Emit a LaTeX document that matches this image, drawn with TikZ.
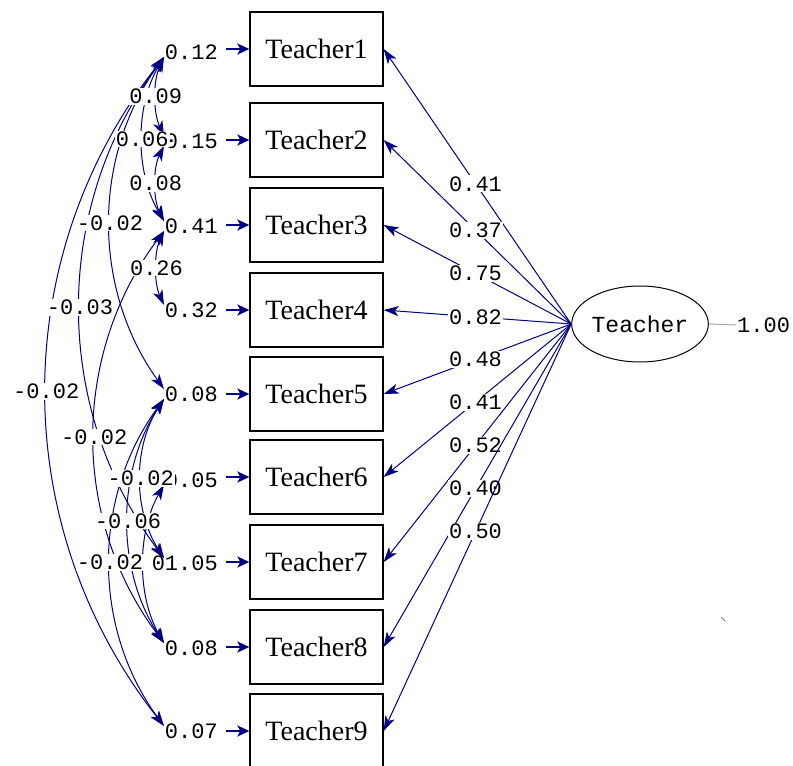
\documentclass[tikz,border=0pt]{standalone}
\usepackage{fontspec}
\setmainfont{Liberation Serif}
\newfontfamily\numfont{Liberation Mono}
\usetikzlibrary{arrows.meta,shapes.geometric}
\definecolor{pathnavy}{RGB}{0,0,128}
\definecolor{varline}{RGB}{165,165,165}
\begin{document}
\begin{tikzpicture}[x=1pt,y=-1pt,
  obsbox/.style={draw=black, line width=1.3pt, minimum width=133pt, minimum height=74pt, inner sep=0pt, font=\fontsize{28}{28}\selectfont},
  latent/.style={draw=black, line width=1pt, ellipse, minimum width=131pt, minimum height=76pt, inner sep=0pt, font=\numfont\fontsize{23}{23}\selectfont},
  num/.style={font=\numfont\fontsize{22}{22}\selectfont, inner sep=1pt, text=black},
  numw/.style={num, fill=white},
  load/.style={draw=pathnavy, line width=1pt, -{Stealth[length=15pt,width=10pt,inset=4pt]}},
  errarr/.style={draw=pathnavy, line width=2.6pt, -{Stealth[length=12pt,width=11pt,inset=3pt]}},
  cov/.style={draw=pathnavy, line width=1pt, {Stealth[length=15pt,width=10pt,inset=4pt]}-{Stealth[length=15pt,width=10pt,inset=4pt]}},
]
\useasboundingbox (0,0) rectangle (793,766);
\clip (0,0) rectangle (793,766);

% observed variables
\foreach \i/\y in {1/49,2/140,3/225,4/310,5/394,6/477,7/562,8/647,9/731}
  \node[obsbox] (T\i) at (316.5,\y) {Teacher\i};

% latent variable
\node[latent] (teacher) at (640,324) {Teacher};
\node[num, anchor=west] (var) at (736,325) {1.00};
\draw[varline, line width=1pt] (teacher.east) -- (var.west);

% loadings
\foreach \i/\l in {1/0.41,2/0.37,3/0.75,4/0.82,5/0.48,6/0.41,7/0.52,8/0.40,9/0.50}
  \draw[load] (teacher.west) -- (T\i.east) node[numw, pos=0.51] {\l};

% error terms
\foreach \i/\y/\t in {1/52/0.12,2/141/0.15,3/226/0.41,4/310/0.32,5/394/0.08,6/480/0.05,7/563/01.05,8/648/0.08,9/731/0.07}{
  \node[num, anchor=east] (v\i) at (219,\y) {\t};
  \coordinate (d\i) at (164,{\y+5});
  \coordinate (u\i) at (164,{\y-5});
  \draw[errarr] ([xshift=7pt]v\i.east |- T\i.west) -- (T\i.west);
}

% error covariances
\draw[cov] (d1) .. controls +(-11,24) and +(-11,-24) .. (u2) coordinate[pos=0.5] (c1);
\draw[cov] (d1) .. controls +(-29,49) and +(-29,-49) .. (u3) coordinate[pos=0.5] (c2);
\draw[cov] (d2) .. controls +(-11,22) and +(-11,-22) .. (u3) coordinate[pos=0.5] (c3);
\draw[cov] (d1) .. controls +(-72,100) and +(-72,-100) .. (u5) coordinate[pos=0.5] (c4);
\draw[cov] (d3) .. controls +(-10,22) and +(-10,-22) .. (u4) coordinate[pos=0.5] (c5);
\draw[cov] (d1) .. controls +(-112,150) and +(-112,-150) .. (u7) coordinate[pos=0.5] (c6);
\draw[cov] (d1) .. controls +(-157,200) and +(-157,-200) .. (u9) coordinate[pos=0.5] (c7);
\draw[cov] (d3) .. controls +(-93,124) and +(-93,-124) .. (u8) coordinate[pos=0.5] (c8);
\draw[cov] (d5) .. controls +(-31,48) and +(-31,-48) .. (u7) coordinate[pos=0.5] (c9);
\draw[cov] (d5) .. controls +(-48,73) and +(-48,-73) .. (u8) coordinate[pos=0.5] (c10);
\draw[cov] (d5) .. controls +(-72,98) and +(-72,-98) .. (u9) coordinate[pos=0.5] (c11);
\draw[cov] (d6) .. controls +(-27,47) and +(-27,-47) .. (u8);

\node[numw] at (c1) {0.09};
\node[numw] at (c2) {0.06};
\node[numw] at (c3) {0.08};
\node[numw] at (c4) {-0.02};
\node[numw] at (c5) {0.26};
\node[numw] at (c6) {-0.03};
\node[numw] at (c7) {-0.02};
\node[numw] at (c8) {-0.02};
\node[numw] at (c9) {-0.02};
\node[numw] at (c10) {-0.06};
\node[numw] at (c11) {-0.02};

% stray mark
\draw[gray, line width=0.8pt] (721,617) -- (725,621);
\end{tikzpicture}
\end{document}
